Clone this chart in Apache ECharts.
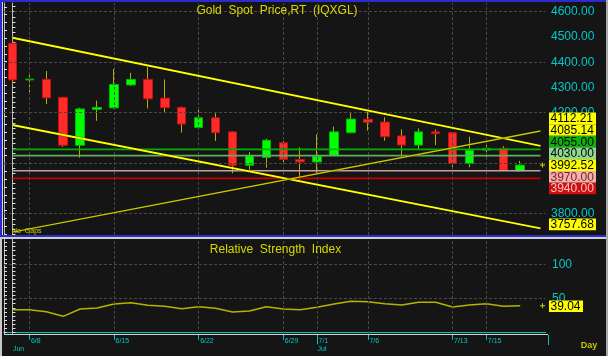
<!DOCTYPE html>
<html><head><meta charset="utf-8">
<script src="https://cdn.jsdelivr.net/npm/echarts@6/dist/echarts.min.js"></script>
<style>html,body{margin:0;padding:0;background:#151515;}#c{width:608px;height:356px;}</style>
</head><body><div id="c"></div>
<script>
// ---------------- data ----------------
const dates = ['6/5','6/8','6/9','6/10','6/11','6/12','6/15','6/16','6/17','6/18','6/19',
  '6/22','6/23','6/24','6/25','6/26','6/29','6/30','7/1','7/2','7/3',
  '7/6','7/7','7/8','7/9','7/10','7/13','7/14','7/15','7/16','7/17',''];
const opens  = [4475,4330,4332,4261,4071,4213,4219,4310,4332,4258,4221,4141,4180,4124,3992,4023,4081,4015,4005,4030,4121,4174,4163,4108,4072,4124,4121,3999,4052,4059,3970];
const closes = [4330,4333,4259,4071,4215,4221,4312,4332,4255,4220,4155,4180,4121,3992,4029,4091,4015,4005,4028,4124,4175,4162,4105,4072,4124,4117,3999,4052,4059,3972,3992.52];
const lows   = [4310,4270,4234,4065,4022,4168,4217,4306,4217,4202,4121,4134,4088,3960,3966,3982,3997,3930,3960,4028,4118,4129,4089,4026,4052,4072,3984,3984,4013,3968,3968];
const highs  = [4484,4356,4365,4262,4220,4248,4373,4358,4382,4332,4224,4221,4198,4126,4044,4097,4088,4063,4114,4145,4198,4204,4182,4134,4138,4134,4123,4105,4081,4068,4009];
const rsi    = [33.2,33.2,30.3,23.5,34.3,35.7,41.6,43.5,39.7,38.2,34.7,37.6,35.3,29.9,31.3,37.6,34.3,33.2,36.8,41.6,45.6,45.0,42.1,40.1,44.1,44.1,37.2,40.1,42.1,38.2,39.04];
const trendUpper = [[0,4497],[31.2,4068.7]];
const trendLower = [[0,4151],[31.2,3741.9]];
const trendRising = [[0,3727.5],[31.2,4127.6]];
const levelValues = [4055, 4030, 3970, 3940];
const levelSpan = [0, 31.2];
const priceTicks = [3800,3900,4000,4100,4200,4300,4400,4500,4600];
const priceGridValues = [3800,4000,4200,4400,4600];
const rsiTicks = [50,100];
const dateTickLabels = ['6/8','6/15','6/22','6/29','7/1','7/6','7/13','7/15'];
const monthStarts = ['6/5','7/1'];
const monthNames = ['Jun','Jul'];
const monthTickDates = ['7/1'];
const markerValues = [4112.21, 4085.14, 4055.00, 4030.00, 3992.52, 3970.00, 3940.00, 3757.68];
const lastClose = 3992.52;
const lastRsi = 39.04;

// ---------------- styles ----------------
const markerStyles = [
  {bg:'#ffff00', fg:'#000000'}, {bg:'#ffff00', fg:'#000000'},
  {bg:'#10b010', fg:'#000000'}, {bg:'#90d890', fg:'#000000'},
  {bg:'#ffff00', fg:'#000000'}, {bg:'#f0b0b0', fg:'#802020'},
  {bg:'#d01010', fg:'#ffc0c0'}, {bg:'#ffff00', fg:'#000000'}
];
const levelColors = ['#00b000', '#5fae5f', '#c8a0a0', '#c80000'];
const FONT = 'Liberation Sans, Arial, sans-serif';
const CYAN = '#00c8c8';
const GRIDC = '#484848';
const PMIN = 3715.7, PMAX = 4634.5;
const RMIN = -2.5, RMAX = 137.2;

function range(a, b, s) { const r = []; for (let v = a; v <= b + 1e-9; v += s) r.push(+v.toFixed(4)); return r; }

const chart = echarts.init(document.getElementById('c'), null, {width:608, height:356});

const ohlc = opens.map((o, i) => [o, closes[i], lows[i], highs[i]]);
const bodies = opens.map((o, i) => [o, closes[i], Math.min(o, closes[i]), Math.max(o, closes[i])]);
const dateIdx = dateTickLabels.map(d => dates.indexOf(d));

const gridLineStyle = {color: GRIDC, type: [3, 2], width: 1};
const gridMarkLine = (yVals) => ({silent:true, symbol:'none', animation:false, label:{show:false}, lineStyle:gridLineStyle,
  data: yVals.map(v => ({yAxis:v})).concat(dateIdx.map(i => ({xAxis:i})))});

const series = [
  // invisible carrier for the price-panel grid lines
  { type:'line', xAxisIndex:1, yAxisIndex:0, data:[], symbol:'none', z:1, markLine: gridMarkLine(priceGridValues) },
  { type:'candlestick', xAxisIndex:0, yAxisIndex:0, data: ohlc, barWidth:1, z:2,
    itemStyle:{color:'#b0b000', color0:'#b0b000', borderColor:'#b0b000', borderColor0:'#b0b000', borderWidth:1} },
  { type:'candlestick', xAxisIndex:0, yAxisIndex:0, data: bodies, barWidth:9, z:3,
    itemStyle:{color:'#00ff00', color0:'#ff2a2a', borderColor:'#00b800', borderColor0:'#c41212', borderWidth:1} },
];
levelValues.forEach((v, k) => {
  series.push({ type:'line', xAxisIndex:1, yAxisIndex:0, data:[[levelSpan[0], v],[levelSpan[1], v]], symbol:'none', z:4,
    lineStyle:{color: levelColors[k], width:1.6}, animation:false, silent:true });
});
[[trendUpper, '#ffff00', 2], [trendLower, '#ffff00', 2], [trendRising, '#c8c800', 1.3]].forEach(t => {
  series.push({ type:'line', xAxisIndex:1, yAxisIndex:0, data:t[0], symbol:'none', z:5,
    lineStyle:{color:t[1], width:t[2], shadowColor:'rgba(0,0,0,0.9)', shadowBlur:1}, animation:false, silent:true });
});
series.push({ type:'line', xAxisIndex:4, yAxisIndex:2, data:[], symbol:'none', z:1, markLine: gridMarkLine(rsiTicks) });
series.push({ type:'line', xAxisIndex:2, yAxisIndex:2, data: rsi, symbol:'none', z:4,
  lineStyle:{color:'#b4b400', width:1.5}, animation:false, silent:true });

const option = {
  backgroundColor:'#151515',
  animation:false,
  grid:[
    {left:4, right:62.4, top:3, height:232},
    {left:4, right:62.4, top:239, height:95}
  ],
  xAxis:[
    {type:'category', gridIndex:0, data:dates, boundaryGap:true, axisLine:{show:false}, axisTick:{show:false}, axisLabel:{show:false}, splitLine:{show:false}},
    {type:'value', gridIndex:0, min:-0.5, max:dates.length-0.5, show:false},
    {type:'category', gridIndex:1, data:dates, boundaryGap:true, position:'bottom', offset:2.5,
      axisLine:{show:true, lineStyle:{color:CYAN, width:1}},
      axisTick:{show:true, alignWithLabel:true, length:7.5, lineStyle:{color:CYAN}, interval:(i, v) => dateTickLabels.includes(dates[i])},
      axisLabel:{show:true, color:CYAN, fontSize:7, fontFamily:FONT, align:'left', margin:1.5, padding:[0,0,0,1.5],
        interval:(i, v) => dateTickLabels.includes(dates[i])},
      splitLine:{show:false}},
    {type:'category', gridIndex:1, data:dates, boundaryGap:true, position:'bottom', offset:10.3,
      axisLine:{show:true, lineStyle:{color:CYAN, width:1}},
      axisTick:{show:true, alignWithLabel:true, length:12, lineStyle:{color:CYAN}, interval:(i, v) => monthTickDates.includes(dates[i])},
      axisLabel:{show:true, color:CYAN, fontSize:7, fontFamily:FONT, align:'left', margin:1.5, padding:[0,0,0,0.5],
        interval:(i, v) => monthStarts.includes(dates[i]),
        formatter:(v) => { const k = monthStarts.indexOf(v); return k >= 0 ? monthNames[k] : ''; }},
      splitLine:{show:false}},
    {type:'value', gridIndex:1, min:-0.5, max:dates.length-0.5, show:false}
  ],
  yAxis:[
    {type:'value', gridIndex:0, position:'right', offset:2.4, min:PMIN, max:PMAX,
      axisLine:{show:true, lineStyle:{color:'#b8b8b8'}},
      axisTick:{show:true, inside:false, length:3, lineStyle:{color:'#e0e0e0'}, customValues: range(3720, 4620, 20)},
      axisLabel:{show:true, color:CYAN, fontSize:12, fontFamily:FONT, margin:3, customValues: priceTicks, formatter:v => v.toFixed(2)},
      splitLine:{show:false}},
    {type:'value', gridIndex:0, position:'left', min:PMIN, max:PMAX,
      axisLine:{show:true, lineStyle:{color:'#b8b8b8'}},
      axisTick:{show:true, inside:true, length:3, lineStyle:{color:'#e0e0e0'}, customValues: range(3720, 4620, 31)},
      axisLabel:{show:false}, splitLine:{show:false}},
    {type:'value', gridIndex:1, position:'right', offset:2.4, min:RMIN, max:RMAX,
      axisLine:{show:true, lineStyle:{color:'#b8b8b8'}},
      axisTick:{show:true, inside:false, length:3, lineStyle:{color:'#e0e0e0'}, customValues: range(0, 132, 6)},
      axisLabel:{show:true, color:CYAN, fontSize:12, fontFamily:FONT, margin:4, customValues: rsiTicks},
      splitLine:{show:false}},
    {type:'value', gridIndex:1, position:'left', min:RMIN, max:RMAX,
      axisLine:{show:true, lineStyle:{color:'#b8b8b8'}},
      axisTick:{show:true, inside:true, length:3, lineStyle:{color:'#e0e0e0'}, customValues: range(0, 132, 6)},
      axisLabel:{show:false}, splitLine:{show:false}}
  ],
  series: series
};
chart.setOption(option);

// ---------------- overlays (frame, titles, value boxes) ----------------
const g = [];
const rect = (x, y, w, h, fill, z) => g.push({type:'rect', silent:true, z: z || 50, shape:{x, y, width:w, height:h}, style:{fill}});
rect(0, 0, 608, 2, '#2b2bd0');
rect(0, 0, 2, 237, '#2b2bd0');
rect(2, 2, 1, 233, '#d8d8d8');
rect(0, 235, 608, 2, '#2b2bd0');
rect(0, 237, 608, 2, '#d0d0d0');
rect(0, 237, 2, 119, '#c8c8c8');
rect(606, 0, 2, 356, '#a8a8a8');
rect(4, 334, 544, 1, '#d0d0d0');
rect(548, 335, 1, 10, CYAN);

const text = (t, x, y, size, color, align, weight) => g.push({type:'text', silent:true, z:60, x, y,
  style:{text:t, fill:color, font:(weight || 'normal') + ' ' + size + 'px ' + FONT, textAlign:align || 'left', textVerticalAlign:'middle'}});
text('Gold  Spot  Price,RT  (IQXGL)', 277, 10.5, 12, '#d8d800', 'center');
text('Relative  Strength  Index', 275.5, 249.5, 12, '#d8d800', 'center');
text('No  Gaps', 12, 231.5, 7, '#d0d000');
text('Day', 589, 345.5, 9, '#c8c000', 'center', 'bold');

// stacked value boxes on the price axis (anchored on the last close)
const H = 11.7;
const ys = markerValues.map(v => chart.convertToPixel({yAxisIndex:0}, v));
const anchor = markerValues.indexOf(lastClose);
for (let i = anchor - 1; i >= 0; i--) ys[i] = Math.min(ys[i], ys[i + 1] - H);
for (let i = anchor + 1; i < ys.length; i++) ys[i] = Math.max(ys[i], ys[i - 1] + H);
markerValues.forEach((v, i) => {
  rect(549, ys[i] - H / 2, 47, H, markerStyles[i].bg, 70);
  g.push({type:'text', silent:true, z:71, x:550.5, y:ys[i] + 0.5,
    style:{text:v.toFixed(2), fill:markerStyles[i].fg, font:'12px ' + FONT, textAlign:'left', textVerticalAlign:'middle'}});
});
const ry = chart.convertToPixel({yAxisIndex:2}, lastRsi);
rect(549, ry - H / 2 + 0.5, 34, H, '#ffff00', 70);
g.push({type:'text', silent:true, z:71, x:550.5, y:ry + 1,
  style:{text:lastRsi.toFixed(2), fill:'#000', font:'12px ' + FONT, textAlign:'left', textVerticalAlign:'middle'}});

// "+" last value markers
const plus = (cx, cy) => {
  g.push({type:'line', silent:true, z:60, shape:{x1:cx - 2.5, y1:cy, x2:cx + 2.5, y2:cy}, style:{stroke:'#d0d000', lineWidth:1}});
  g.push({type:'line', silent:true, z:60, shape:{x1:cx, y1:cy - 2.5, x2:cx, y2:cy + 2.5}, style:{stroke:'#d0d000', lineWidth:1}});
};
plus(542.5, chart.convertToPixel({yAxisIndex:0}, lastClose));
plus(542.5, ry);

chart.setOption({graphic: g});
</script>
</body></html>
